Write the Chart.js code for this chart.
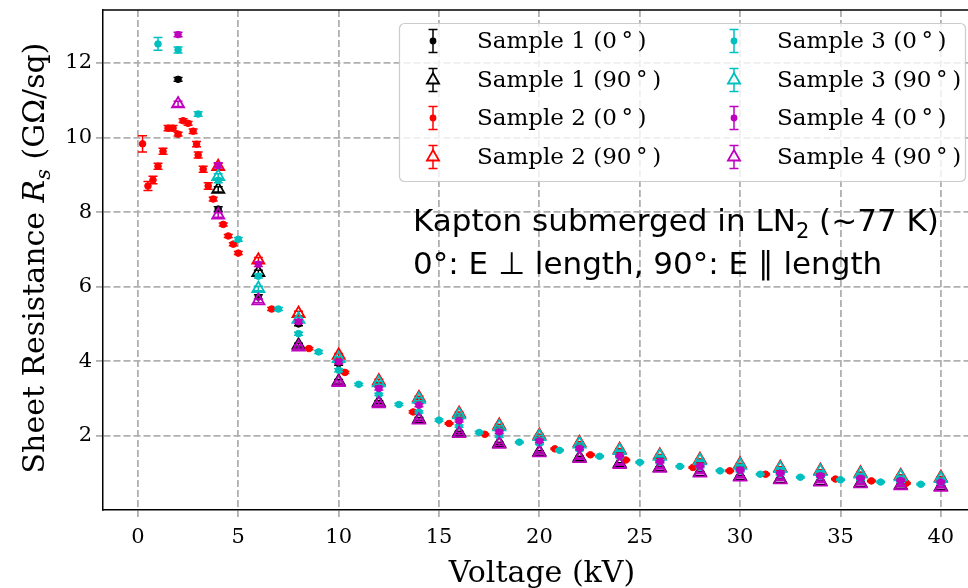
<!DOCTYPE html>
<html>
<head>
<meta charset="utf-8">
<script src="https://cdn.jsdelivr.net/npm/chart.js@4.4.1/dist/chart.umd.min.js"></script>
<style>
  html, body { margin: 0; padding: 0; background: #fff; overflow: hidden; }
  #wrap { width: 1000px; height: 588px; }
</style>
</head>
<body>
<div id="wrap"><canvas id="myChart" width="1000" height="588"></canvas></div>
<script>
// values, Rs in GOhm/sq, voltage in kV
const kv2to40 = [2,4,6,8,10,12,14,16,18,20,22,24,26,28,30,32,34,36,38,40]
const kv4to40 = [4,6,8,10,12,14,16,18,20,22,24,26,28,30,32,34,36,38,40]
const kv1to40 = [1,2,3,4,5,6,7,8,9,10,11,12,13,14,15,16,17,18,19,20,21,22,23,24,25,26,27,28,29,30,31,32,33,34,35,36,37,38,39,40]

// Sample 1
const s1_0 = [11.56,8.08,5.72,5.00,3.94,3.36,2.92,2.51,2.19,1.93,1.73,1.56,1.41,1.29,1.17,1.08,1.01,0.94,0.87,0.82]
const s1_0_err = [0.05,0.06,0.06,0.05,0.05,0.04,0.04,0.03,0.03,0.03,0.03,0.02,0.02,0.02,0.02,0.02,0.02,0.02,0.02,0.02]
const s1_90 = [8.61,6.38,4.43,3.46,2.90,2.45,2.09,1.80,1.57,1.42,1.26,1.15,1.02,0.91,0.84,0.78,0.73,0.68,0.64]
const s1_90_err = [0.07,0.06,0.05,0.05,0.04,0.04,0.03,0.03,0.03,0.03,0.02,0.02,0.02,0.02,0.02,0.02,0.02,0.02,0.02]

// Sample 2 (0 deg was swept in finer steps)
const s2_0_kv = [0.23,0.5,0.75,1.0,1.25,1.5,1.75,2.0,2.25,2.5,2.75,2.92,3.0,3.25,3.5,3.75,4.25,4.5,4.75,5.0,6.66,8.52,10.31,13.71,15.5,17.28,20.77,22.54,24.3,27.65,29.48,31.27,34.75,36.54,38.28]
const s2_0 = [9.83,8.70,8.86,9.23,9.63,10.25,10.25,10.09,10.45,10.38,10.17,9.82,9.53,9.15,8.70,8.35,7.67,7.36,7.14,6.90,5.40,4.34,3.70,2.64,2.33,2.04,1.65,1.49,1.35,1.15,1.06,0.97,0.84,0.79,0.73]
const s2_0_err = [0.22,0.12,0.10,0.08,0.08,0.07,0.07,0.05,0.05,0.05,0.06,0.07,0.08,0.08,0.09,0.05,0.04,0.04,0.04,0.04,0.04,0.03,0.03,0.03,0.02,0.02,0.02,0.02,0.02,0.02,0.02,0.02,0.02,0.02,0.02]
const s2_90 = [9.22,6.71,5.28,4.16,3.47,3.02,2.60,2.28,2.01,1.81,1.63,1.48,1.36,1.24,1.15,1.07,1.00,0.93,0.88]
const s2_90_err = [0.08,0.07,0.06,0.05,0.05,0.04,0.04,0.03,0.03,0.03,0.03,0.02,0.02,0.02,0.02,0.02,0.02,0.02,0.02]

// Sample 3
const s3_0 = [12.51,12.35,10.63,8.85,7.27,6.28,5.40,4.74,4.25,3.76,3.38,3.11,2.84,2.64,2.42,2.26,2.09,1.99,1.83,1.79,1.61,1.62,1.45,1.43,1.29,1.28,1.18,1.16,1.06,1.05,0.97,0.97,0.89,0.90,0.82,0.83,0.76,0.77,0.70,0.73]
const s3_0_err = [0.17,0.08,0.06,0.06,0.05,0.05,0.04,0.04,0.04,0.04,0.03,0.03,0.03,0.03,0.03,0.03,0.03,0.03,0.02,0.02,0.02,0.02,0.02,0.02,0.02,0.02,0.02,0.02,0.02,0.02,0.02,0.02,0.02,0.02,0.02,0.02,0.02,0.02,0.02,0.02]
const s3_90 = [8.95,5.95,5.12,4.07,3.42,2.98,2.56,2.24,1.98,1.78,1.60,1.45,1.33,1.21,1.12,1.04,0.97,0.90,0.85]
const s3_90_err = [0.08,0.06,0.05,0.05,0.04,0.04,0.03,0.03,0.03,0.03,0.02,0.02,0.02,0.02,0.02,0.02,0.02,0.02,0.02]

// Sample 4
const s4_0 = [12.76,9.25,6.60,5.06,3.98,3.27,2.82,2.40,2.10,1.86,1.66,1.46,1.31,1.19,1.08,1.00,0.93,0.86,0.80,0.76]
const s4_0_err = [0.06,0.07,0.06,0.05,0.05,0.04,0.04,0.03,0.03,0.03,0.03,0.02,0.02,0.02,0.02,0.02,0.02,0.02,0.02,0.02]
const s4_90 = [10.90,7.92,5.62,4.38,3.43,2.86,2.42,2.06,1.77,1.54,1.39,1.23,1.13,1.00,0.89,0.82,0.76,0.71,0.66,0.62]
const s4_90_err = [0.07,0.06,0.05,0.05,0.04,0.04,0.03,0.03,0.03,0.03,0.02,0.02,0.02,0.02,0.02,0.02,0.02,0.02,0.02,0.02]

const labels = ['Sample 1 (0\u2009°\u2009)','Sample 1 (90\u2009°\u2009)','Sample 2 (0\u2009°\u2009)','Sample 2 (90\u2009°\u2009)',
                'Sample 3 (0\u2009°\u2009)','Sample 3 (90\u2009°\u2009)','Sample 4 (0\u2009°\u2009)','Sample 4 (90\u2009°\u2009)']

const xTicksStep = 5
const yTicksStep = 2

const colK = '#000000', colR = '#ff0000', colC = '#00bfbf', colM = '#bf00bf'
const serif = '"DejaVu Serif", "Liberation Serif", serif'
const sans = '"DejaVu Sans", sans-serif'

function makeSet(i, xs, ys, errs, color, tri) {
    return {
        label: labels[i],
        data: xs.map((x, k) => ({x: x, y: ys[k]})),
        errs: errs,
        showLine: false,
        borderColor: color,
        backgroundColor: tri ? 'rgba(0,0,0,0)' : color,
        pointStyle: tri ? 'triangle' : 'circle',
        pointRadius: tri ? 7 : 3.3,
        pointHoverRadius: tri ? 7 : 3.3,
        pointBorderWidth: tri ? 1.8 : 1,
        tri: tri,
        order: 8 - i,
    }
}

const datasets = [
    makeSet(0, kv2to40, s1_0, s1_0_err, colK, false),
    makeSet(1, kv4to40, s1_90, s1_90_err, colK, true),
    makeSet(2, s2_0_kv, s2_0, s2_0_err, colR, false),
    makeSet(3, kv4to40, s2_90, s2_90_err, colR, true),
    makeSet(4, kv1to40, s3_0, s3_0_err, colC, false),
    makeSet(5, kv4to40, s3_90, s3_90_err, colC, true),
    makeSet(6, kv2to40, s4_0, s4_0_err, colM, false),
    makeSet(7, kv2to40, s4_90, s4_90_err, colM, true),
]

// error bars under each dataset's markers
const errorBars = {
    id: 'errorBars',
    beforeDatasetDraw(chart, args) {
        const ds = chart.data.datasets[args.index]
        if (!ds.errs) return
        const ctx = chart.ctx, ys = chart.scales.y
        ctx.save()
        ctx.strokeStyle = ds.borderColor
        ctx.lineWidth = 1.5
        args.meta.data.forEach((pt, k) => {
            const v = ds.data[k].y, e = ds.errs[k]
            const t = ys.getPixelForValue(v + e), b = ys.getPixelForValue(v - e)
            ctx.beginPath()
            ctx.moveTo(pt.x, t); ctx.lineTo(pt.x, b)
            ctx.moveTo(pt.x - 4.5, t); ctx.lineTo(pt.x + 4.5, t)
            ctx.moveTo(pt.x - 4.5, b); ctx.lineTo(pt.x + 4.5, b)
            ctx.stroke()
        })
        ctx.restore()
    }
}

function drawMarker(ctx, x, y, color, tri) {
    ctx.save()
    ctx.strokeStyle = color
    ctx.fillStyle = color
    ctx.lineWidth = 1.5
    ctx.beginPath()
    ctx.moveTo(x, y - 11.5); ctx.lineTo(x, y + 11.5)
    ctx.moveTo(x - 4.5, y - 11.5); ctx.lineTo(x + 4.5, y - 11.5)
    ctx.moveTo(x - 4.5, y + 11.5); ctx.lineTo(x + 4.5, y + 11.5)
    ctx.stroke()
    ctx.beginPath()
    if (tri) {
        const r = 7
        ctx.lineWidth = 1.8
        ctx.moveTo(x, y - r)
        ctx.lineTo(x + r * Math.sin(2 * Math.PI / 3), y + r / 2)
        ctx.lineTo(x - r * Math.sin(2 * Math.PI / 3), y + r / 2)
        ctx.closePath()
        ctx.fillStyle = 'rgba(255,255,255,0.9)'
        ctx.fill()
        ctx.stroke()
    } else {
        ctx.arc(x, y, 3.4, 0, Math.PI * 2)
        ctx.fill()
    }
    ctx.restore()
}

// frame top line, y title, annotation, legend
const extras = {
    id: 'extras',
    afterDraw(chart) {
        const ctx = chart.ctx, a = chart.chartArea
        ctx.save()
        ctx.strokeStyle = '#000'
        ctx.lineWidth = 1.5
        ctx.beginPath()
        ctx.moveTo(a.left, a.top); ctx.lineTo(a.right, a.top)
        ctx.stroke()

        // y axis title with italic R_s
        ctx.fillStyle = '#000'
        ctx.translate(44, 258)
        ctx.rotate(-Math.PI / 2)
        const parts = [['Sheet Resistance ', '30px ' + serif, 0], ['R', 'italic 30px ' + serif, 0],
                       ['s', 'italic 21px ' + serif, 6], [' (G\u03a9/sq)', '30px ' + serif, 0]]
        let total = 0
        parts.forEach(p => { ctx.font = p[1]; total += ctx.measureText(p[0]).width })
        let x = -total / 2
        ctx.textBaseline = 'alphabetic'
        parts.forEach(p => { ctx.font = p[1]; ctx.fillText(p[0], x, p[2]); x += ctx.measureText(p[0]).width })
        ctx.restore()

        // annotation
        ctx.save()
        ctx.fillStyle = '#000'
        ctx.textBaseline = 'alphabetic'
        ctx.font = '31px ' + sans
        let tx = 413
        ctx.fillText('Kapton submerged in LN', tx, 231)
        tx += ctx.measureText('Kapton submerged in LN').width
        ctx.font = '21px ' + sans
        ctx.fillText('2', tx, 238)
        tx += ctx.measureText('2').width
        ctx.font = '31px ' + sans
        ctx.fillText(' (~77 K)', tx, 231)
        ctx.fillText('0°: E \u22a5 length, 90°: E \u2225 length', 413, 274)
        ctx.restore()

        // legend box
        ctx.save()
        ctx.beginPath()
        ctx.roundRect(399.5, 23.5, 566, 158, 5)
        ctx.fillStyle = 'rgba(255,255,255,0.8)'
        ctx.fill()
        ctx.strokeStyle = '#cccccc'
        ctx.lineWidth = 1.2
        ctx.stroke()
        const rows = [41, 80, 118, 157]
        const symX = [433, 734], txtX = [477, 777]
        ctx.font = '23px ' + serif
        ctx.textBaseline = 'middle'
        chart.data.datasets.forEach((ds, i) => {
            const col = i < 4 ? 0 : 1, row = i % 4
            drawMarker(ctx, symX[col], rows[row], ds.borderColor, ds.tri)
            ctx.fillStyle = '#000'
            ctx.fillText(ds.label, txtX[col], rows[row] + 1)
        })
        ctx.restore()
    }
}

const ctx = document.getElementById('myChart').getContext('2d')
const myChart = new Chart(ctx, {
    type: 'scatter',
    data: { datasets: datasets },
    options: {
        responsive: false,
        animation: false,
        devicePixelRatio: 1,
        layout: { padding: { top: 10, right: 19, left: 0, bottom: 0 } },
        plugins: {
            legend: { display: false },
            tooltip: { enabled: false },
        },
        scales: {
            x: {
                type: 'linear',
                min: -1.74,
                max: 42.0,
                afterFit: s => { s.height = 78; s.paddingLeft = 0; s.paddingRight = 0 },
                ticks: {
                    stepSize: xTicksStep,
                    includeBounds: false,
                    maxRotation: 0,
                    padding: 8,
                    color: '#000',
                    font: { family: serif, size: 21 },
                },
                grid: {
                    color: '#b0b0b0',
                    lineWidth: 1.8,
                    tickLength: 7,
                    tickColor: '#b0b0b0',
                },
                border: { display: true, color: '#000', width: 1.5, dash: [7, 3] },
                title: {
                    display: true,
                    text: 'Voltage (kV)',
                    color: '#000',
                    padding: { top: 0, bottom: -4 },
                    font: { family: serif, size: 30 },
                },
            },
            y: {
                type: 'linear',
                min: 0.01,
                max: 13.42,
                afterFit: s => { s.width = 103; s.paddingTop = 0; s.paddingBottom = 0 },
                ticks: {
                    stepSize: yTicksStep,
                    includeBounds: false,
                    padding: 4,
                    color: '#000',
                    font: { family: serif, size: 21 },
                },
                grid: {
                    color: '#b0b0b0',
                    lineWidth: 1.8,
                    tickLength: 7,
                    tickColor: '#b0b0b0',
                },
                border: { display: true, color: '#000', width: 1.5, dash: [7, 3] },
            },
        },
    },
    plugins: [errorBars, extras],
})
</script>
</body>
</html>
